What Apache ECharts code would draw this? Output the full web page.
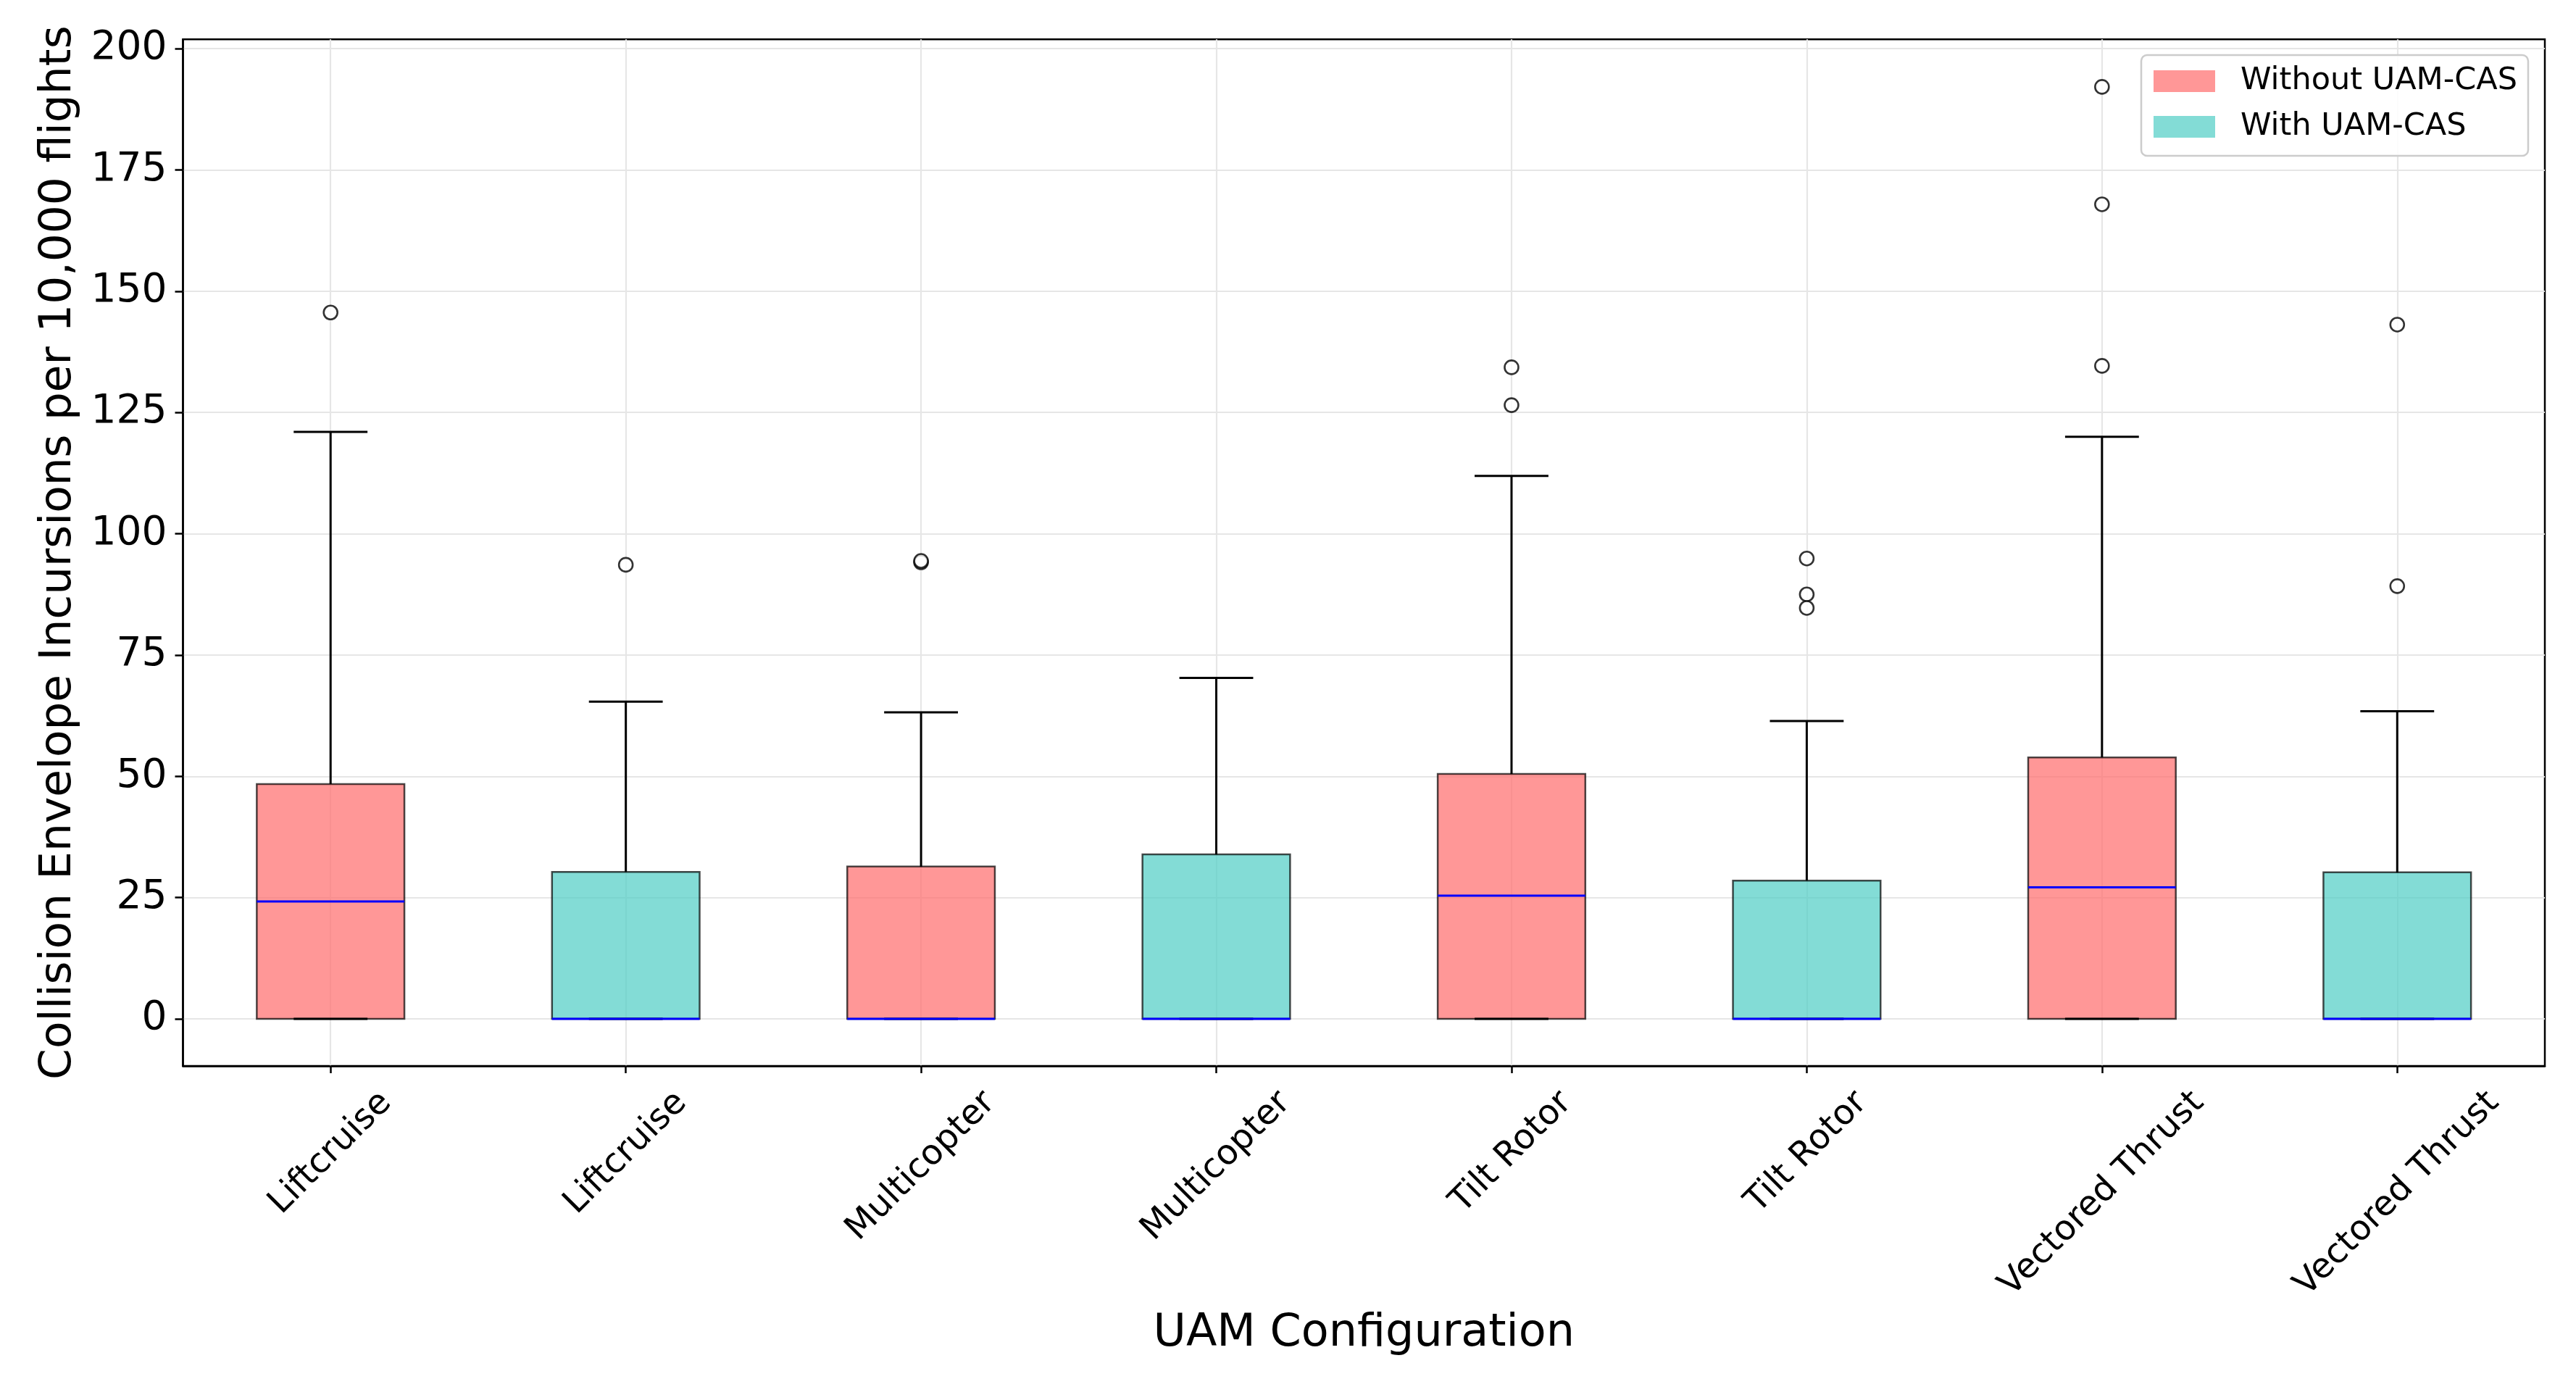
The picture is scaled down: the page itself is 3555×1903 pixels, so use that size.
<!DOCTYPE html>
<html><head><meta charset="utf-8">
<script src="https://cdn.jsdelivr.net/npm/echarts@6/dist/echarts.min.js"></script>
<style>html,body{margin:0;padding:0;background:#fff}#c{width:3555px;height:1903px}</style>
</head><body><div id="c"></div>
<script>
// ---- data ----
const categories = ['Liftcruise', 'Liftcruise', 'Multicopter', 'Multicopter', 'Tilt Rotor', 'Tilt Rotor', 'Vectored Thrust', 'Vectored Thrust'];
const seriesNames = ['Without UAM-CAS', 'With UAM-CAS'];
const groupOf = [0, 1, 0, 1, 0, 1, 0, 1];
const whiskerLow = [0, 0, 0, 0, 0, 0, 0, 0];
const q1 = [0, 0, 0, 0, 0, 0, 0, 0];
const median = [24.2, 0, 0, 0, 25.4, 0, 27.1, 0];
const q3 = [48.4, 30.3, 31.4, 33.9, 50.5, 28.5, 53.9, 30.2];
const whiskerHigh = [121.0, 65.4, 63.2, 70.3, 111.9, 61.4, 120.0, 63.4];
const outliers = [[145.6], [93.6], [94.1, 94.4], [], [134.3, 126.5], [94.9, 87.5, 84.7], [192.1, 167.9, 134.6], [143.1, 89.2]];
const yTicks = [0, 25, 50, 75, 100, 125, 150, 175, 200];

// ---- styles ----
const FONT = 'DejaVu Sans';
const XFS = 47.5;
const fills = ['rgba(255,107,107,0.7)', 'rgba(78,205,196,0.7)'];
const GRID = '#e6e6e6';

// per-label padding so rotated labels are centred under their tick (matplotlib ha=center)
const ctx = document.createElement('canvas').getContext('2d');
ctx.font = XFS + 'px "' + FONT + '"';
const rich = {};
categories.forEach((c, i) => {
  const s = ctx.measureText(c).width / 2;
  rich['r' + i] = { fontSize: XFS, fontFamily: FONT, color: '#000', padding: [s, s, 0, 0] };
});

function renderBox(params, api) {
  const x = api.value(0);
  const lo = api.value(1), a = api.value(2), m = api.value(3), b = api.value(4), hi = api.value(5);
  const bw = api.size([1, 0])[0] * 0.5;
  const cx = api.coord([x, 0])[0];
  const Y = v => api.coord([x, v])[1];
  const g = params.seriesIndex;
  const line = (x1, y1, x2, y2, color) => ({
    type: 'line', shape: { x1, y1, x2, y2 },
    style: { stroke: color, lineWidth: 3 }
  });
  return {
    type: 'group',
    children: [
      { type: 'rect', shape: { x: cx - bw / 2, y: Y(b), width: bw, height: Y(a) - Y(b) },
        style: { fill: fills[g], stroke: 'rgba(0,0,0,0.7)', lineWidth: 2.5 } },
      line(cx, Y(b), cx, Y(hi), '#000'),
      line(cx, Y(a), cx, Y(lo), '#000'),
      line(cx - bw / 4, Y(hi), cx + bw / 4, Y(hi), '#000'),
      line(cx - bw / 4, Y(lo), cx + bw / 4, Y(lo), '#000'),
      line(cx - bw / 2, Y(m), cx + bw / 2, Y(m), '#0000ff')
    ]
  };
}

const boxSeries = seriesNames.map((name, g) => ({
  type: 'custom',
  name: name,
  itemStyle: { color: fills[g] },
  encode: { x: 0, y: [1, 2, 3, 4, 5] },
  data: categories.map((c, i) => i).filter(i => groupOf[i] === g)
    .map(i => [i, whiskerLow[i], q1[i], median[i], q3[i], whiskerHigh[i]]),
  renderItem: renderBox,
  z: 2
}));

const outlierData = [];
outliers.forEach((arr, i) => arr.forEach(v => outlierData.push([i, v])));

const chart = echarts.init(document.getElementById('c'), null, { renderer: 'canvas' });
chart.setOption({
  animation: false,
  backgroundColor: '#fff',
  grid: { left: 252.5, right: 43, top: 54.3, bottom: 432, show: true, borderColor: '#000', borderWidth: 2.5, containLabel: false },
  legend: {
    data: seriesNames, orient: 'vertical', left: 2955, top: 76,
    itemWidth: 85, itemHeight: 30, itemGap: 19, icon: 'rect',
    padding: [14, 15, 18, 17],
    itemStyle: { borderWidth: 0 },
    textStyle: { fontSize: 43, fontFamily: FONT, color: '#000', padding: [0, 0, 0, 30], lineHeight: 44 },
    backgroundColor: 'rgba(255,255,255,0.85)', borderColor: '#cccccc', borderWidth: 2.5, borderRadius: 8
  },
  xAxis: {
    type: 'category', data: categories, boundaryGap: true,
    axisLine: { show: true, onZero: false, lineStyle: { color: '#000', width: 2.5 } },
    axisTick: { show: true, alignWithLabel: true, interval: 0, length: 10, lineStyle: { color: '#000', width: 2.5 } },
    splitLine: { show: true, alignWithLabel: true, interval: 0, lineStyle: { color: GRID, width: 2.2 } },
    axisLabel: {
      interval: 0, rotate: 45, align: 'center', verticalAlign: 'middle', margin: 43.5,
      formatter: (v, i) => '{r' + i + '|' + v + '}', rich: rich,
      fontSize: XFS, fontFamily: FONT, color: '#000'
    },
    name: 'UAM Configuration', nameLocation: 'middle', nameGap: 339,
    nameTextStyle: { fontSize: 62, fontFamily: FONT, color: '#000' }
  },
  yAxis: {
    type: 'value', min: -9.7, max: 201.9,
    axisLine: { show: true, lineStyle: { color: '#000', width: 2.5 } },
    axisTick: { show: true, customValues: yTicks, length: 11, lineStyle: { color: '#000', width: 2.5 } },
    axisLabel: { customValues: yTicks, fontSize: 55, fontFamily: FONT, color: '#000', margin: 22 },
    splitLine: { show: true, lineStyle: { color: GRID, width: 2.2 } },
    name: 'Collision Envelope Incursions per 10,000 flights', nameLocation: 'middle', nameGap: 141,
    nameTextStyle: { fontSize: 61.3, fontFamily: FONT, color: '#000' }
  },
  series: boxSeries.concat([{
    type: 'scatter', name: 'outliers', data: outlierData,
    symbol: 'circle', symbolSize: 19, silent: true, z: 5,
    itemStyle: { color: '#fff', borderColor: '#000', borderWidth: 2.6 }
  }])
});
</script>
</body></html>
